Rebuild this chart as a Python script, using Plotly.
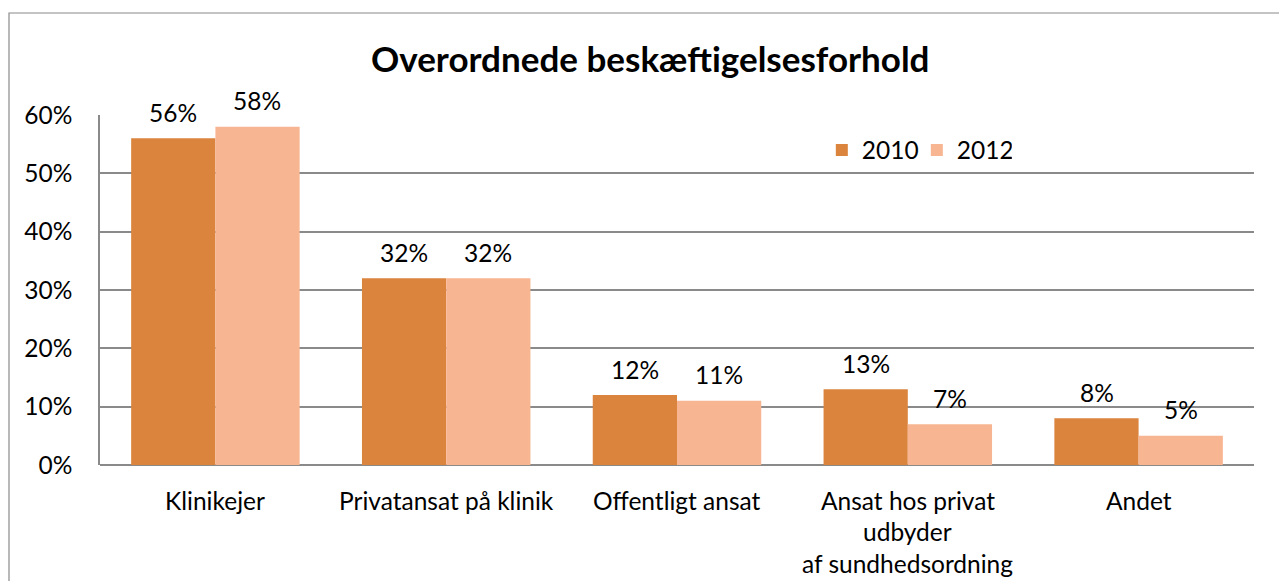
import plotly.graph_objects as go

categories = ["Klinikejer", "Privatansat på klinik", "Offentligt ansat",
              "Ansat hos privat\nudbyder\naf sundhedsordning", "Andet"]
years = ["2010", "2012"]
values_2010 = [0.56, 0.32, 0.12, 0.13, 0.08]
values_2012 = [0.58, 0.32, 0.11, 0.07, 0.05]
tick_vals = [0, 0.1, 0.2, 0.3, 0.4, 0.5, 0.6]
title_text = "Overordnede beskæftigelsesforhold"

colors = {"2010": "#DB843E", "2012": "#F8B591"}
FONT = "Lato"
FS = 24.5
GRID = "#8a8a8a"

W, H = 1279, 581
ML, MR, MT, MB = 100, 25, 115, 116
plot_w = W - ML - MR
plot_h = H - MT - MB

fig = go.Figure()
series = {"2010": values_2010, "2012": values_2012}
for yr in years:
    fig.add_trace(go.Bar(
        x=list(range(len(categories))), y=series[yr], name=yr,
        marker=dict(color=colors[yr], line=dict(width=0)),
    ))

annotations = []
# data labels
for k, yr in enumerate(years):
    shift = -42 if k == 0 else 42
    for i, v in enumerate(series[yr]):
        annotations.append(dict(
            x=i, y=v, xref="x", yref="y", text=f"{round(v*100)}%",
            showarrow=False, xshift=shift, yshift=26, yanchor="middle",
            font=dict(family=FONT, size=FS, color="#000000")))
# category labels (multi-line)
for i, c in enumerate(categories):
    for j, line in enumerate(c.split("\n")):
        annotations.append(dict(
            x=i, y=0, xref="x", yref="paper", text=line, showarrow=False,
            yanchor="middle", yshift=-35 - 31.5 * j,
            font=dict(family=FONT, size=FS, color="#000000")))
# title
annotations.append(dict(
    x=(650 - ML) / plot_w, y=(H - MB - 58) / plot_h, xref="paper", yref="paper",
    text=f"<b>{title_text}</b>", xanchor="center", yanchor="middle",
    showarrow=False, font=dict(family=FONT, size=35, color="#000000")))

fig.update_layout(
    width=W, height=H,
    margin=dict(l=ML, r=MR, t=MT, b=MB),
    paper_bgcolor="white", plot_bgcolor="white",
    barmode="group", bargap=0.27, bargroupgap=0,
    showlegend=True,
    legend=dict(orientation="h", x=0.6255, y=(H - MB - 150) / plot_h,
                xanchor="left", yanchor="middle",
                font=dict(family=FONT, size=FS, color="#000000"),
                bgcolor="rgba(0,0,0,0)", itemwidth=30, entrywidth=50),
    xaxis=dict(range=[-0.5, len(categories) - 0.5], showticklabels=False,
               showgrid=False, zeroline=False, showline=False, ticks=""),
    yaxis=dict(range=[0, 0.6], tickvals=tick_vals, tickformat=".0%",
               showgrid=True, gridcolor=GRID, gridwidth=1.5,
               showline=True, linecolor=GRID, linewidth=1.5,
               zeroline=True, zerolinecolor=GRID, zerolinewidth=1.5,
               ticks="", ticklabelstandoff=21,
               tickfont=dict(family=FONT, size=FS, color="#000000")),
    annotations=annotations,
    font=dict(family=FONT),
)

# outer chart border
fig.add_shape(type="rect", xref="paper", yref="paper",
              x0=(9 - ML) / plot_w, x1=(1300 - ML) / plot_w,
              y0=(H - MB - 600) / plot_h, y1=(H - MB - 13) / plot_h,
              line=dict(color="#8a8a8a", width=1.2), fillcolor="rgba(0,0,0,0)",
              layer="below")

fig.write_html("out.html", config={"displayModeBar": False},
               post_script="document.body.style.margin='0';document.body.style.overflow='hidden';")
